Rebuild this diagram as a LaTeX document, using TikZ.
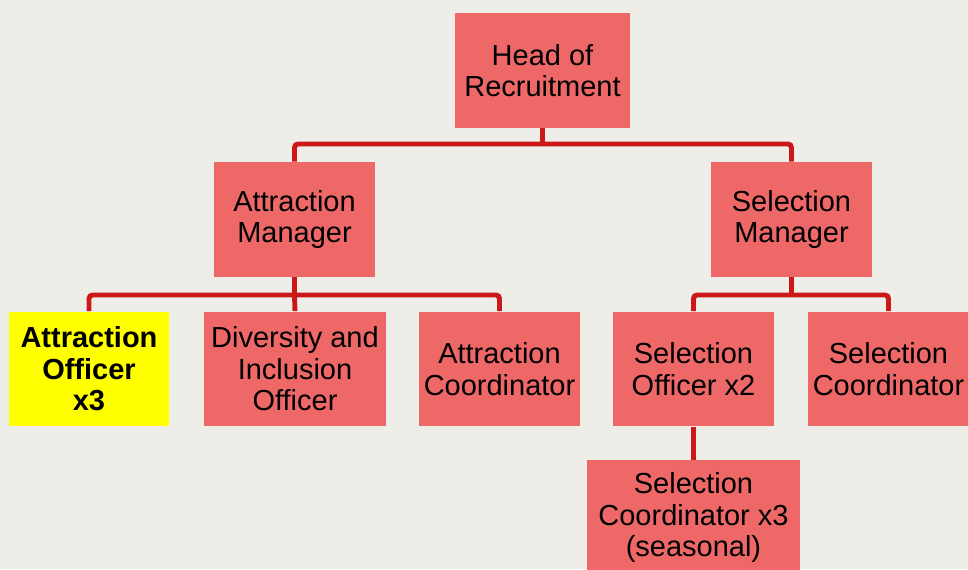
\documentclass[tikz,border=0pt]{standalone}
\usepackage{fontspec}
\setmainfont{Liberation Sans}
\definecolor{pagebg}{RGB}{238,237,232}
\definecolor{boxred}{RGB}{238,104,104}
\definecolor{linkred}{RGB}{204,24,24}
\definecolor{hilite}{RGB}{255,255,0}
\begin{document}
\begin{tikzpicture}[x=0.02cm,y=-0.02cm,
    role/.style={fill=boxred,inner sep=0pt,align=center,
        minimum height=2.3cm,font=\fontsize{16.5}{18}\selectfont},
    keyrole/.style={role,fill=hilite,font=\fontsize{16.5}{18}\selectfont\bfseries},
    link/.style={draw=linkred,line width=2.8pt,rounded corners=2pt}]
        \useasboundingbox (0,0) rectangle (968,569);
        \fill[pagebg] (0,0) rectangle (968,569);
        \clip (0,0) rectangle (968,569);

        \node[role,minimum width=3.5cm] (head) at (542.5,70.5) {Head of\\Recruitment};

        \node[role,minimum width=3.22cm] (am) at (294.5,219.5) {Attraction\\Manager};
        \node[role,minimum width=3.22cm] (sm) at (791.5,219.5) {Selection\\Manager};

        \node[keyrole,minimum width=3.2cm] (ao) at (89,369) {Attraction\\Officer\\x3};
        \node[role,minimum width=3.64cm] (dio) at (295,369) {Diversity and\\Inclusion\\Officer};
        \node[role,minimum width=3.22cm] (ac) at (499.5,369) {Attraction\\Coordinator};

        \node[role,minimum width=3.22cm] (so) at (693.5,369) {Selection\\Officer x2};
        \node[role,minimum width=3.22cm] (sc) at (888.5,369) {Selection\\Coordinator};

        \node[role,minimum width=4.26cm] (scs) at (693.5,517.5) {Selection\\Coordinator x3\\(seasonal)};

        \coordinate (bus1) at (542.5,144);
        \coordinate (bus2) at (294.5,295);
        \coordinate (bus3) at (791.5,295);

        %top level
        \draw[link] (head.south) -- (head.south |- bus1);
        \draw[link] (am.north) -- (am.north |- bus1) -- (sm.north |- bus1) -- (sm.north);

        %attraction side
        \draw[link] (am.south) -- (bus2);
        \draw[link] (ao.north) -- (ao.north |- bus2) -- (ac.north |- bus2) -- (ac.north);
        \draw[link] (bus2) -- (dio.north);

        %selection side
        \draw[link] (sm.south) -- (bus3);
        \draw[link] (so.north) -- (so.north |- bus3) -- (sc.north |- bus3) -- (sc.north);
        \draw[link] (so.south) -- (scs.north);
\end{tikzpicture}
\end{document}
